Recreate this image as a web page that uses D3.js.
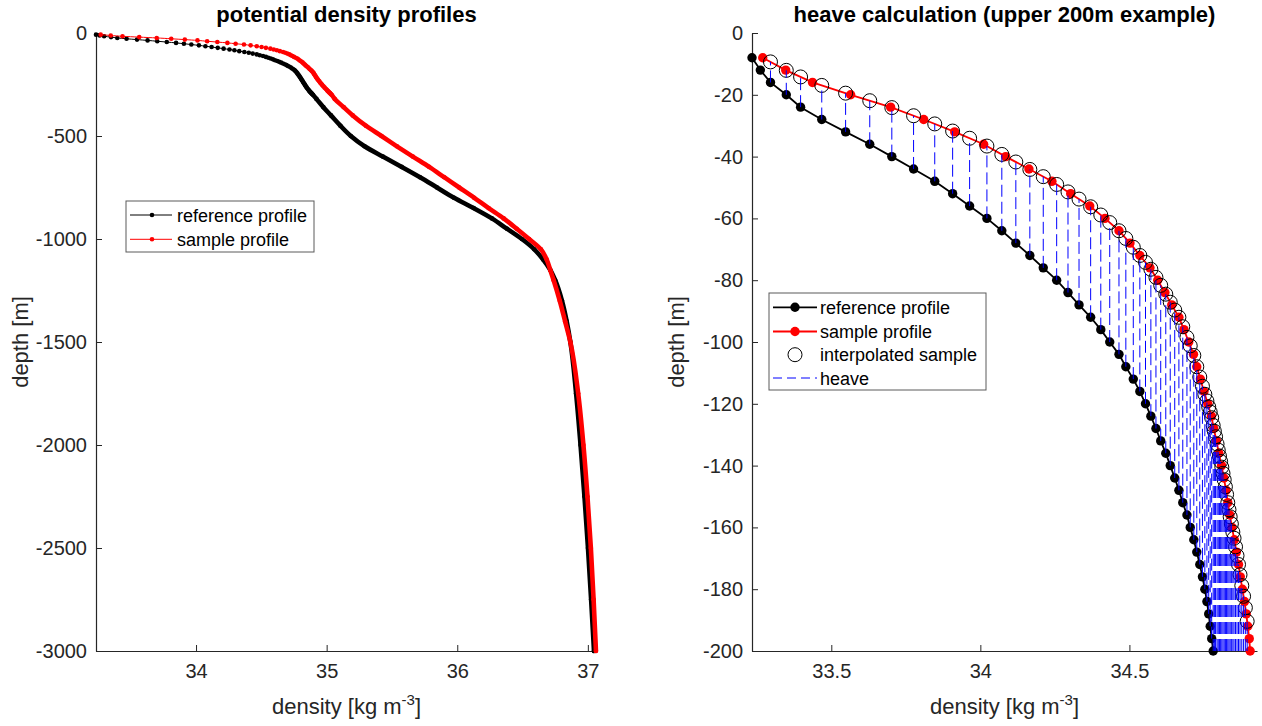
<!DOCTYPE html>
<html>
<head>
<meta charset="utf-8">
<script src="https://cdn.jsdelivr.net/npm/d3@7"></script>
<style>
  body { margin: 0; background: #fff; }
  svg { display: block; font-family: "Liberation Sans", Arial, Helvetica, sans-serif; }
</style>
</head>
<body>
<svg id="chart" width="1262" height="726"></svg>
<script>
// ---- profile data (depth in m, potential density in kg m^-3) ----
// Upper profile on a 4 m grid, used by both panels and by the heave calculation.
const fineDepths = [
  -8, -12, -16, -20, -24, -28, -32, -36, -40, -44, -48, -52, -56, -60, -64, -68, -72, -76, -80, -84,
  -88, -92, -96, -100, -104, -108, -112, -116, -120, -124, -128, -132, -136, -140, -144, -148, -152, -156, -160, -164,
  -168, -172, -176, -180, -184, -188, -192, -196, -200, -204, -208, -212, -216, -220, -224, -228, -232, -236, -240, -244,
  -248, -252, -256, -260, -264, -268, -272, -276, -280, -284, -288, -292, -296, -300
];
const referenceFine = [
  33.234, 33.262, 33.296, 33.349, 33.397, 33.468, 33.548, 33.629, 33.703, 33.776,
  33.847, 33.907, 33.964, 34.022, 34.072, 34.119, 34.166, 34.211, 34.256, 34.294,
  34.331, 34.370, 34.404, 34.434, 34.465, 34.488, 34.513, 34.535, 34.554, 34.572,
  34.589, 34.605, 34.622, 34.637, 34.652, 34.666, 34.679, 34.693, 34.704, 34.716,
  34.726, 34.736, 34.745, 34.753, 34.760, 34.766, 34.771, 34.776, 34.781,
  34.785, 34.789, 34.794, 34.798, 34.802, 34.806, 34.810, 34.814, 34.818, 34.822,
  34.826, 34.830, 34.834, 34.838, 34.842, 34.847, 34.851, 34.856, 34.861, 34.866,
  34.871, 34.877, 34.883, 34.889, 34.895
];
const sampleFine = [
  33.270, 33.347, 33.437, 33.565, 33.699, 33.810, 33.914, 34.011, 34.085, 34.163,
  34.240, 34.303, 34.367, 34.418, 34.465, 34.502, 34.535, 34.569, 34.595, 34.619,
  34.642, 34.666, 34.683, 34.699, 34.715, 34.726, 34.738, 34.750, 34.763, 34.775,
  34.783, 34.792, 34.800, 34.809, 34.817, 34.824, 34.830, 34.837, 34.844, 34.852,
  34.859, 34.866, 34.872, 34.879, 34.886, 34.892, 34.897, 34.902, 34.905,
  34.909, 34.913, 34.917, 34.921, 34.926, 34.930, 34.935, 34.940, 34.945, 34.950,
  34.955, 34.960, 34.966, 34.971, 34.977, 34.983, 34.989, 34.995, 35.001, 35.007,
  35.013, 35.019, 35.026, 35.032, 35.038
];
// Deeper part of the profiles down to 3000 m.
const deepDepths = [
  -320, -360, -400, -450, -500, -550, -600, -650, -700, -750, -800, -850, -900, -950,
  -1000, -1050, -1100, -1150, -1200, -1300, -1400, -1500, -1750, -2000, -2250, -2500, -2750, -3000
];
const referenceDeep = [
  34.922, 34.975, 35.033, 35.105, 35.185, 35.290, 35.430, 35.575, 35.715, 35.845, 35.975, 36.125, 36.265, 36.380,
  36.495, 36.590, 36.658, 36.712, 36.750, 36.802, 36.838, 36.866, 36.910, 36.944, 36.974, 37.001, 37.025, 37.047
];
const sampleDeep = [
  35.062, 35.130, 35.200, 35.300, 35.420, 35.538, 35.660, 35.785, 35.900, 36.015, 36.130, 36.240, 36.355, 36.455,
  36.550, 36.640, 36.685, 36.712, 36.738, 36.785, 36.826, 36.866, 36.926, 36.966, 36.997, 37.023, 37.044, 37.062
];

// ---- axis ticks ----
const leftDensityTicks = [34, 35, 36, 37];
const leftDepthTicks = [0, -500, -1000, -1500, -2000, -2500, -3000];
const rightDensityTicks = [33.5, 34, 34.5];
const rightDepthTicks = [0, -20, -40, -60, -80, -100, -120, -140, -160, -180, -200];

const titles = ["potential density profiles", "heave calculation (upper 200m example)"];
const legendLeft = ["reference profile", "sample profile"];
const legendRight = ["reference profile", "sample profile", "interpolated sample", "heave"];

// ---- setup ----
const svg = d3.select("#chart");
svg.append("rect").attr("width", 1262).attr("height", 726).attr("fill", "#fff");

const AXIS = "#262626";
const FONT_AX = 20, FONT_LBL = 22, FONT_LEG = 18;
const R_DOT = 4.7, R_RING = 7;

const xL = d3.scaleLinear().domain([33.234, 37.07]).range([96, 597]);
const yL = d3.scaleLinear().domain([-3000, 0]).range([651, 33]);
const xR = d3.scaleLinear().domain([33.234, 34.928]).range([752, 1257]);
const yR = d3.scaleLinear().domain([-200, 0]).range([651, 33]);

function drawAxes(x, y, xTicks, yTicks, title) {
  const fmt = d => String(d);
  const gx = svg.append("g").attr("transform", `translate(0,${y.range()[0]})`)
    .call(d3.axisBottom(x).tickValues(xTicks).tickFormat(fmt).tickSizeInner(-6).tickSizeOuter(0).tickPadding(13));
  const gy = svg.append("g").attr("transform", `translate(${x.range()[0]},0)`)
    .call(d3.axisLeft(y).tickValues(yTicks).tickFormat(fmt).tickSizeInner(-6).tickSizeOuter(0).tickPadding(9));
  [gx, gy].forEach(g => {
    g.select(".domain").attr("stroke", AXIS).attr("stroke-width", 1.2);
    g.selectAll(".tick line").attr("stroke", AXIS).attr("stroke-width", 1);
    g.selectAll(".tick text").attr("fill", AXIS).style("font-size", FONT_AX + "px")
      .style("font-family", '"Liberation Sans", Arial, Helvetica, sans-serif');
  });
  const cx = (x.range()[0] + x.range()[1]) / 2;
  const cy = (y.range()[0] + y.range()[1]) / 2;
  svg.append("text").attr("x", cx).attr("y", 22).attr("text-anchor", "middle")
    .attr("font-weight", "bold").attr("font-size", FONT_LBL).attr("fill", "#000").text(title);
  const xl = svg.append("text").attr("x", cx).attr("y", 714).attr("text-anchor", "middle")
    .attr("font-size", FONT_LBL).attr("fill", AXIS);
  xl.append("tspan").text("density [kg m");
  xl.append("tspan").attr("dy", -9).attr("font-size", 15).text("-3");
  xl.append("tspan").attr("dy", 9).text("]");
  svg.append("text").attr("transform", `translate(${x.range()[0] - 68},${cy}) rotate(-90)`)
    .attr("text-anchor", "middle").attr("font-size", FONT_LBL).attr("fill", AXIS).text("depth [m]");
}

drawAxes(xL, yL, leftDensityTicks, leftDepthTicks, titles[0]);
drawAxes(xR, yR, rightDensityTicks, rightDepthTicks, titles[1]);

// ---- left panel: full profiles ----
const fineRef = fineDepths.map((z, i) => ({ z, rho: referenceFine[i] }));
const fineSmp = fineDepths.map((z, i) => ({ z, rho: sampleFine[i] }));
const deepRef = deepDepths.map((z, i) => ({ z, rho: referenceDeep[i] }));
const deepSmp = deepDepths.map((z, i) => ({ z, rho: sampleDeep[i] }));

function drawFullProfile(fine, deep, color) {
  const all = fine.concat(deep);
  const path = d3.line().x(d => xL(d.rho)).y(d => yL(d.z)).curve(d3.curveMonotoneY);
  const g = svg.append("g");
  g.append("path").attr("d", path(all)).attr("fill", "none").attr("stroke", color).attr("stroke-width", 1);
  // densely packed dot markers below the fine grid merge into a band
  const band = fine.slice(-6).concat(deep);
  g.append("path").attr("d", path(band)).attr("fill", "none").attr("stroke", color)
    .attr("stroke-width", 4.6).attr("stroke-linecap", "round").attr("stroke-linejoin", "round");
  g.selectAll("circle").data(all).join("circle")
    .attr("cx", d => xL(d.rho)).attr("cy", d => yL(d.z)).attr("r", 2.3).attr("fill", color);
}
drawFullProfile(fineRef, deepRef, "#000");
drawFullProfile(fineSmp, deepSmp, "#ff0000");

// left legend
{
  const bx = 126, by = 201, bw = 188, bh = 51;
  const g = svg.append("g");
  g.append("rect").attr("x", bx).attr("y", by).attr("width", bw).attr("height", bh)
    .attr("fill", "#fff").attr("stroke", "#5a5a5a").attr("stroke-width", 1);
  const colors = ["#000", "#ff0000"];
  legendLeft.forEach((t, i) => {
    const cy = 215 + i * 24.3;
    g.append("line").attr("x1", 130).attr("x2", 172).attr("y1", cy).attr("y2", cy)
      .attr("stroke", colors[i]).attr("stroke-width", 1);
    g.append("circle").attr("cx", 152).attr("cy", cy).attr("r", 2.3).attr("fill", colors[i]);
    g.append("text").attr("x", 177).attr("y", cy + 6.5).attr("font-size", FONT_LEG).attr("fill", "#000").text(t);
  });
}

// ---- right panel: upper 200 m heave calculation ----
const zMin = yR.domain()[0];
const refTop = fineRef.filter(d => d.z >= zMin);
const smpTop = fineSmp.filter(d => d.z >= zMin);

// depth at which the sample profile reaches a given density (linear between grid points)
function sampleDepthAt(rho) {
  for (let j = 0; j < sampleFine.length - 1; j++) {
    const a = sampleFine[j], b = sampleFine[j + 1];
    if (rho >= a && rho <= b) {
      const t = (rho - a) / (b - a);
      return fineDepths[j] + t * (fineDepths[j + 1] - fineDepths[j]);
    }
  }
  return null;
}
const interp = fineRef.map(d => ({ rho: d.rho, zRef: d.z, z: sampleDepthAt(d.rho) }))
  .filter(d => d.z !== null && d.z >= zMin);

const lineR = d3.line().x(d => xR(d.rho)).y(d => yR(d.z));

svg.append("path").attr("d", lineR(refTop)).attr("fill", "none").attr("stroke", "#000").attr("stroke-width", 1.8);
svg.append("g").selectAll("circle").data(refTop).join("circle")
  .attr("cx", d => xR(d.rho)).attr("cy", d => yR(d.z)).attr("r", R_DOT).attr("fill", "#000");

svg.append("path").attr("d", lineR(smpTop)).attr("fill", "none").attr("stroke", "#ff0000").attr("stroke-width", 1.8);
svg.append("g").selectAll("circle").data(smpTop).join("circle")
  .attr("cx", d => xR(d.rho)).attr("cy", d => yR(d.z)).attr("r", R_DOT).attr("fill", "#ff0000");

svg.append("g").selectAll("circle").data(interp).join("circle")
  .attr("cx", d => xR(d.rho)).attr("cy", d => yR(d.z)).attr("r", R_RING)
  .attr("fill", "none").attr("stroke", "#000").attr("stroke-width", 1);

// heave: vertical dashed segments from reference depth to interpolated sample depth
svg.append("g").selectAll("line").data(interp).join("line")
  .attr("x1", d => xR(d.rho)).attr("x2", d => xR(d.rho))
  .attr("y1", d => yR(Math.max(d.zRef, zMin))).attr("y2", d => yR(d.z))
  .attr("stroke", "#0000ff").attr("stroke-width", 1).attr("stroke-dasharray", "12,5");

// right legend
{
  const bx = 769, by = 293, bw = 217, bh = 97;
  const g = svg.append("g");
  g.append("rect").attr("x", bx).attr("y", by).attr("width", bw).attr("height", bh)
    .attr("fill", "#fff").attr("stroke", "#5a5a5a").attr("stroke-width", 1);
  const rows = [307.3, 331.5, 354.7, 378];
  legendRight.forEach((t, i) => {
    const cy = rows[i];
    if (i < 2) {
      const c = i === 0 ? "#000" : "#ff0000";
      g.append("line").attr("x1", 773).attr("x2", 817).attr("y1", cy).attr("y2", cy)
        .attr("stroke", c).attr("stroke-width", 1.8);
      g.append("circle").attr("cx", 795).attr("cy", cy).attr("r", R_DOT).attr("fill", c);
    } else if (i === 2) {
      g.append("circle").attr("cx", 795).attr("cy", cy).attr("r", R_RING)
        .attr("fill", "none").attr("stroke", "#000").attr("stroke-width", 1);
    } else {
      g.append("line").attr("x1", 773).attr("x2", 817).attr("y1", cy).attr("y2", cy)
        .attr("stroke", "#0000ff").attr("stroke-width", 1).attr("stroke-dasharray", "9,5");
    }
    g.append("text").attr("x", 820).attr("y", cy + 6.5).attr("font-size", FONT_LEG).attr("fill", "#000").text(t);
  });
}
</script>
</body>
</html>
